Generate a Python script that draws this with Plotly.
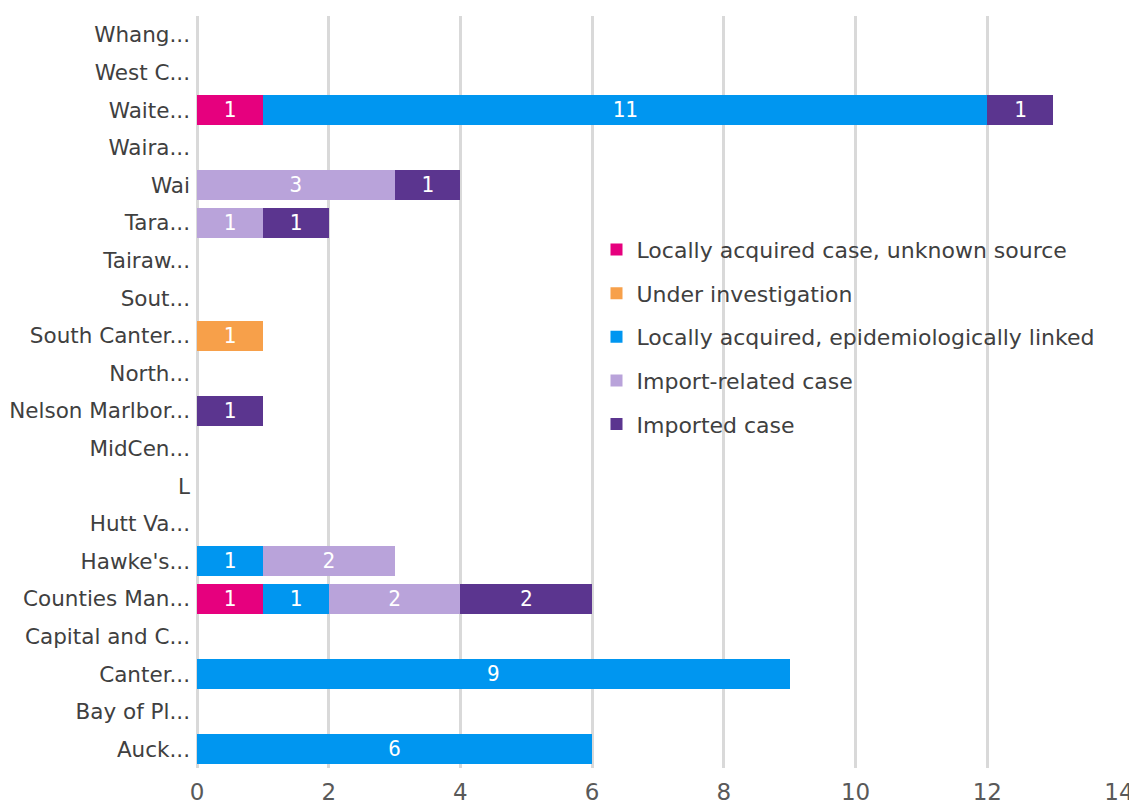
import plotly.graph_objects as go

categories = ["Auck...", "Bay of Pl...", "Canter...", "Capital and C...", "Counties Man...",
              "Hawke's...", "Hutt Va...", "L", "MidCen...", "Nelson Marlbor...", "North...",
              "South Canter...", "Sout...", "Tairaw...", "Tara...", "Wai", "Waira...",
              "Waite...", "West C...", "Whang..."]

series_names = ["Locally acquired case, unknown source", "Under investigation",
                "Locally acquired, epidemiologically linked", "Import-related case",
                "Imported case"]

unknown_source = [0, 0, 0, 0, 1, 0, 0, 0, 0, 0, 0, 0, 0, 0, 0, 0, 0, 1, 0, 0]
under_investigation = [0, 0, 0, 0, 0, 0, 0, 0, 0, 0, 0, 1, 0, 0, 0, 0, 0, 0, 0, 0]
epi_linked = [6, 0, 9, 0, 1, 1, 0, 0, 0, 0, 0, 0, 0, 0, 0, 0, 0, 11, 0, 0]
import_related = [0, 0, 0, 0, 2, 2, 0, 0, 0, 0, 0, 0, 0, 0, 1, 3, 0, 0, 0, 0]
imported = [0, 0, 0, 0, 2, 0, 0, 0, 0, 1, 0, 0, 0, 0, 1, 1, 0, 1, 0, 0]

colors = ["#E6007E", "#F7A04A", "#0096F0", "#B9A3DA", "#5B358F"]
all_series = [unknown_source, under_investigation, epi_linked, import_related, imported]

x_ticks = [0, 2, 4, 6, 8, 10, 12, 14]

fig = go.Figure()
for i, (name, vals, col) in enumerate(zip(series_names, all_series, colors)):
    xs = [v if v else None for v in vals]
    txt = [str(v) if v else "" for v in vals]
    fig.add_trace(go.Bar(
        y=categories, x=xs, name=name, orientation="h", legendgroup=f"g{i}",
        marker=dict(color=col, line=dict(width=0)),
        text=txt, textposition="inside", insidetextanchor="middle",
        textfont=dict(family="DejaVu Sans Mono", size=21, color="white"),
        textangle=0,
    ))

fig.update_layout(
    barmode="stack", bargap=0.2,
    width=1137, height=803,
    margin=dict(l=189, r=26, t=8, b=43),
    paper_bgcolor="white", plot_bgcolor="white",
    font=dict(family="DejaVu Sans", color="#404040"),
    uniformtext=dict(minsize=10, mode="show"),
    legend=dict(x=0.4333, y=0.717, xanchor="left", yanchor="top",
                traceorder="grouped", bgcolor="rgba(0,0,0,0)",
                font=dict(size=22, color="#404040"),
                itemwidth=30, tracegroupgap=12),
    xaxis=dict(range=[0, 14], tickvals=x_ticks, showgrid=True, automargin=False,
               gridcolor="#D9D9D9", gridwidth=3, zeroline=True,
               zerolinecolor="#D9D9D9", zerolinewidth=3,
               tickfont=dict(size=23, color="#595959"), ticks="",
               ticklabelstandoff=8),
    yaxis=dict(categoryorder="array", categoryarray=categories, automargin=False,
               tickfont=dict(size=21.5, color="#404040"), ticks="",
               ticklabelstandoff=6, showgrid=False),
)

fig.write_html("out.html")
